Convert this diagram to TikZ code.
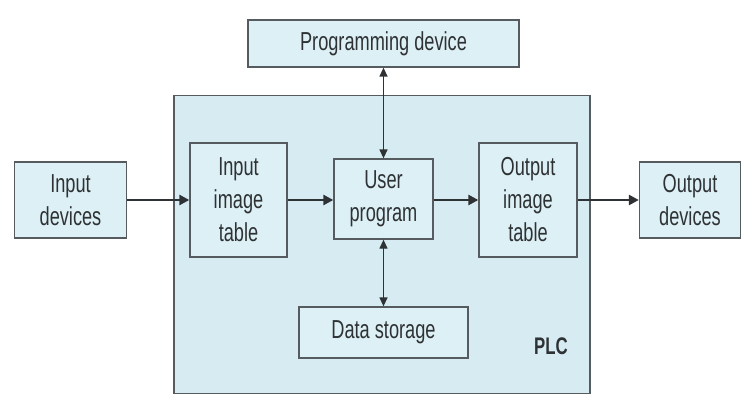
\documentclass[tikz,border=0pt]{standalone}
\usepackage{fontspec}
\setmainfont[FakeStretch=0.70]{Liberation Sans}
\usetikzlibrary{arrows.meta}
\definecolor{plcfill}{HTML}{D6ECF2}
\definecolor{boxfill}{HTML}{DDF0F5}
\definecolor{edge}{HTML}{555B5E}
\definecolor{ink}{HTML}{2E3234}
\tikzset{
  blockbox/.style={draw=edge, line width=1.3pt, fill=boxfill, align=center,
    inner sep=0pt, text=ink, font=\fontsize{26}{33}\selectfont},
  flow/.style={draw=ink, line width=2.6pt, -{Triangle[length=10pt,width=10pt]}},
  link/.style={draw=ink, line width=1.3pt, {Triangle[length=9pt,width=8pt]}-{Triangle[length=9pt,width=8pt]}}
}
\begin{document}
\begin{tikzpicture}[x=1pt,y=-1pt]
\useasboundingbox (0,0) rectangle (742,396);
% PLC enclosure
\node[draw=edge, line width=1.5pt, fill=plcfill, minimum width=416pt, minimum height=298pt, inner sep=0pt] (plc) at (382,244.5) {};
\node[text=ink, font=\bfseries\fontsize{24}{26}\selectfont] (plclabel) at (551,346) {PLC};
% blocks
\node[blockbox, minimum width=112pt, minimum height=76pt] (indev) at (70.5,200) {Input\\devices};
\node[blockbox, minimum width=97pt, minimum height=114pt] (intab) at (238.5,200) {Input\\image\\table};
\node[blockbox, minimum width=99pt, minimum height=80pt] (prog) at (383.5,199) {User\\program};
\node[blockbox, minimum width=98pt, minimum height=114pt] (outtab) at (528,200) {Output\\image\\table};
\node[blockbox, minimum width=101pt, minimum height=76pt] (outdev) at (690,200) {Output\\devices};
\node[blockbox, minimum width=271pt, minimum height=47pt] (pgdev) at (383.5,43.5) {Programming device};
\node[blockbox, minimum width=169pt, minimum height=51pt] (data) at (383.5,332.5) {Data storage};
% signal flow
\draw[flow] (indev.east) -- (intab.west);
\draw[flow] (intab.east) -- (prog.west |- intab.east);
\draw[flow] (prog.east |- outtab.west) -- (outtab.west);
\draw[flow] (outtab.east) -- (outdev.west);
% two-way links
\draw[link] (pgdev.south) -- (prog.north);
\draw[link] (prog.south) -- (data.north);
\end{tikzpicture}
\end{document}
